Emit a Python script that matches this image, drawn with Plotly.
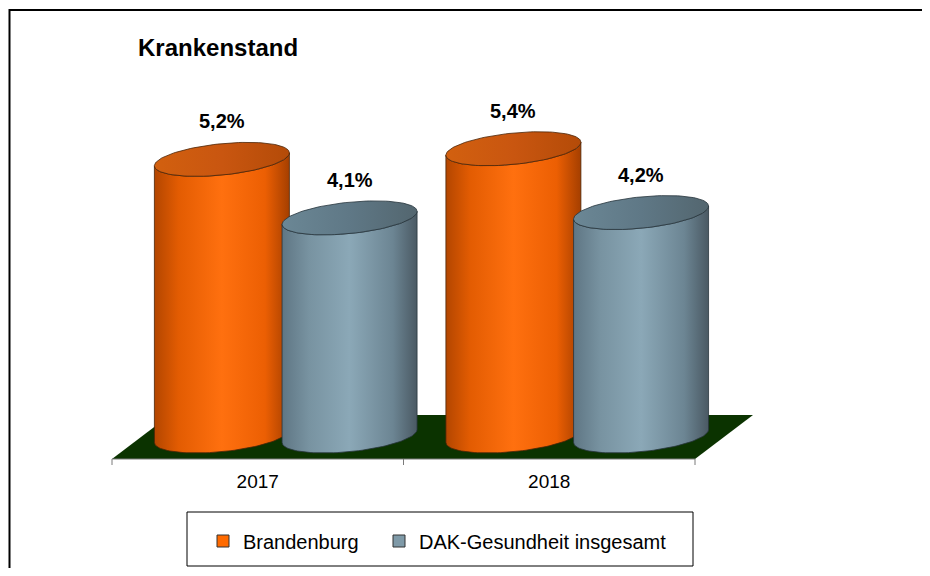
''' Krankenstand: Brandenburg vs DAK-Gesundheit, 3D cylinder look '''
import numpy as np
import plotly.graph_objects as go

years = ['2017', '2018']
series_names = ['Brandenburg', 'DAK-Gesundheit insgesamt']
brandenburg = [5.2, 5.4]
dak = [4.1, 4.2]

# the page body has an 8px margin, so the figure is a bit smaller than the window
PAD = 8
W, H = 930 - 2 * PAD, 576 - 2 * PAD
px_x = 291.5
px_y = 53.2
x0_px = 257.75 - PAD   # category 0
y0_px = 436 - PAD      # value 0
X_RANGE = [-x0_px / px_x, (W - x0_px) / px_x]
Y_RANGE = [-(H - y0_px) / px_y, y0_px / px_y]


def px(x):
    return (x - PAD) / W


def py(y):
    return 1 - (y - PAD) / H


font = 'Liberation Sans, Arial, sans-serif'

# cylinder geometry (depth shift, series offsets, ellipse radii, tilt)
depth = 0.096
offsets = [-0.219, 0.219]
a = 135 / 2 / px_x
b = 15.7 / px_y
slope = (13 / 135) * px_x / px_y

# floor of the 3D plot area
floor_front = -23 / px_y
floor_back = 21 / px_y
floor_skew = 58 / px_x

body_scales = [
    [[0, '#b34600'], [0.18, '#e35c02'], [0.5, '#ff700f'], [0.82, '#ec5f03'], [1, '#a53f00']],
    [[0, '#5f7684'], [0.2, '#7893a1'], [0.5, '#8ba8b7'], [0.82, '#6c8593'], [1, '#4a5963']],
]
top_scales = [
    [[0, '#d2600f'], [0.5, '#c95610'], [1, '#b44b08']],
    [[0, '#6b8795'], [0.5, '#5f7886'], [1, '#53666f']],
]
edge_colors = ['#4a2408', '#27353c']
legend_colors = ['#ff6a00', '#7f9aa8']
legend_ids = ['legend', 'legend2']
legend_x = [203, 379]


def ell(cx, cy, t):
    x = cx + a * np.cos(t)
    y = cy + b * np.sin(t) + slope * a * np.cos(t)
    return x, y


fig = go.Figure()

n = len(years)
fig.add_trace(
    go.Scatter(
        x = [-0.5, n - 0.5, n - 0.5 + floor_skew, -0.5 + floor_skew, -0.5],
        y = [floor_front, floor_front, floor_back, floor_back, floor_front],
        fill = 'toself',
        fillcolor = '#0b3300',
        mode = 'lines',
        line = dict(width = 0),
        showlegend = False,
        hoverinfo = 'skip'
    )
)

values = [brandenburg, dak]
t_low = np.linspace(np.pi, 2 * np.pi, 60)
t_full = np.linspace(0, 2 * np.pi, 120)

for i, year in enumerate(years):
    for s in range(len(series_names)):
        v = values[s][i]
        cx = i + depth + offsets[s]
        bx, by = ell(cx, 0, t_low)
        tx, ty = ell(cx, v, t_low[::-1])
        fig.add_trace(
            go.Scatter(
                x = np.concatenate([bx, tx, bx[:1]]),
                y = np.concatenate([by, ty, by[:1]]),
                fill = 'toself',
                fillgradient = dict(type = 'horizontal', colorscale = body_scales[s]),
                mode = 'lines',
                line = dict(color = edge_colors[s], width = 0.8),
                showlegend = False,
                hoverinfo = 'skip'
            )
        )
        ex, ey = ell(cx, v, t_full)
        fig.add_trace(
            go.Scatter(
                x = ex,
                y = ey,
                fill = 'toself',
                fillgradient = dict(type = 'horizontal', colorscale = top_scales[s]),
                mode = 'lines',
                line = dict(color = edge_colors[s], width = 0.8),
                showlegend = False,
                hovertemplate = f'{series_names[s]} {year}: {v}%<extra></extra>'
            )
        )
        fig.add_annotation(
            x = cx,
            y = v,
            yanchor = 'bottom',
            yshift = 25,
            text = f'<b>{v:.1f}%</b>'.replace('.', ','),
            showarrow = False,
            font = dict(family = font, size = 20, color = 'black')
        )

# legend entries only, one legend per series so they sit like the original
for s, name in enumerate(series_names):
    fig.add_trace(
        go.Bar(
            x = [None],
            y = [None],
            name = name,
            legend = legend_ids[s],
            marker = dict(color = legend_colors[s], line = dict(color = '#333333', width = 1))
        )
    )

# axis line and tick marks along the front edge of the floor
shapes = [
    dict(type = 'line', xref = 'x', yref = 'y', x0 = -0.5, x1 = n - 0.5,
         y0 = floor_front, y1 = floor_front, line = dict(color = '#7a7a7a', width = 1))
]
for k in range(n + 1):
    shapes.append(
        dict(type = 'line', xref = 'x', yref = 'y', x0 = k - 0.5, x1 = k - 0.5,
             y0 = floor_front, y1 = floor_front - 6 / px_y, line = dict(color = '#7a7a7a', width = 1))
    )
# outer frame and legend box
shapes.append(
    dict(type = 'rect', xref = 'paper', yref = 'paper', x0 = px(9.5), x1 = 1.2,
         y0 = -0.2, y1 = py(10), line = dict(color = 'black', width = 2))
)
shapes.append(
    dict(type = 'rect', xref = 'paper', yref = 'paper', x0 = px(187), x1 = px(693),
         y0 = py(566), y1 = py(512), line = dict(color = 'black', width = 1))
)

legend_style = dict(
    orientation = 'h',
    xanchor = 'left',
    y = py(541),
    yanchor = 'middle',
    bgcolor = 'rgba(0,0,0,0)',
    font = dict(family = font, size = 20, color = 'black'),
    itemwidth = 30
)

fig.update_layout(
    width = W,
    height = H,
    margin = dict(l = 0, r = 0, t = 0, b = 0),
    paper_bgcolor = 'white',
    plot_bgcolor = 'rgba(0,0,0,0)',
    shapes = shapes,
    title = dict(
        text = '<b>Krankenstand</b>',
        x = px(138),
        xanchor = 'left',
        y = py(48),
        yanchor = 'middle',
        font = dict(family = font, size = 24, color = 'black')
    ),
    xaxis = dict(
        type = 'linear',
        range = X_RANGE,
        showgrid = False,
        zeroline = False,
        showline = False,
        tickvals = list(range(n)),
        ticktext = years,
        ticks = '',
        anchor = 'free',
        position = py(468),
        tickfont = dict(family = font, size = 19, color = 'black'),
        fixedrange = True
    ),
    yaxis = dict(
        range = Y_RANGE,
        visible = False,
        fixedrange = True
    ),
    showlegend = True,
    legend = dict(legend_style, x = px(legend_x[0])),
    legend2 = dict(legend_style, x = px(legend_x[1]))
)

fig.write_html('out.html')
